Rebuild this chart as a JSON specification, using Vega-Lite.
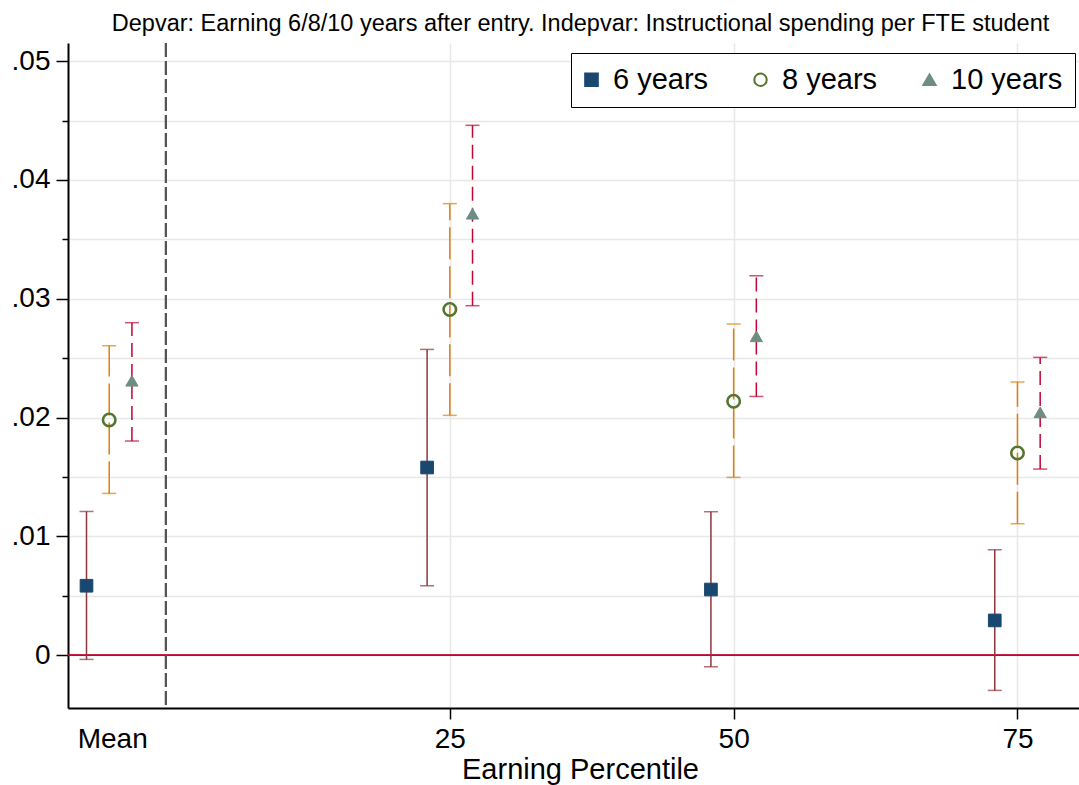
{
  "$schema": "https://vega.github.io/schema/vega-lite/v6.json",
  "autosize": "none",
  "width": 1011,
  "height": 665,
  "padding": {"left": 68, "top": 43, "right": 0, "bottom": 77},
  "background": "white",
  "config": {
    "font": "Liberation Sans",
    "view": {"stroke": null},
    "axis": {"labelColor": "black", "titleColor": "black", "domainColor": "black", "tickColor": "black", "labelFont": "Liberation Sans", "titleFont": "Liberation Sans"}
  },
  "title": {
    "text": "Depvar: Earning 6/8/10 years after entry. Indepvar: Instructional spending per FTE student",
    "fontSize": 23.5,
    "fontWeight": "normal",
    "color": "black",
    "font": "Liberation Sans",
    "anchor": "middle",
    "frame": "group",
    "offset": 7,
    "dx": 7
  },
  "datasets": {
    "est": [
      {"group": "Mean", "series": "6 years", "x": -7, "est": 0.00585, "lo": -0.00035, "hi": 0.0121},
      {"group": "Mean", "series": "8 years", "x": -5, "est": 0.0198, "lo": 0.01362, "hi": 0.02605},
      {"group": "Mean", "series": "10 years", "x": -3, "est": 0.0231, "lo": 0.01803, "hi": 0.02799},
      {"group": "25", "series": "6 years", "x": 23, "est": 0.0158, "lo": 0.00585, "hi": 0.02574},
      {"group": "25", "series": "8 years", "x": 25, "est": 0.0291, "lo": 0.02019, "hi": 0.03801},
      {"group": "25", "series": "10 years", "x": 27, "est": 0.03716, "lo": 0.02942, "hi": 0.0446},
      {"group": "50", "series": "6 years", "x": 48, "est": 0.00553, "lo": -0.00097, "hi": 0.01208},
      {"group": "50", "series": "8 years", "x": 50, "est": 0.02138, "lo": 0.01497, "hi": 0.02788},
      {"group": "50", "series": "10 years", "x": 52, "est": 0.02684, "lo": 0.02178, "hi": 0.03194},
      {"group": "75", "series": "6 years", "x": 73, "est": 0.00293, "lo": -0.00296, "hi": 0.00888},
      {"group": "75", "series": "8 years", "x": 75, "est": 0.01702, "lo": 0.01107, "hi": 0.0230},
      {"group": "75", "series": "10 years", "x": 77, "est": 0.02044, "lo": 0.01567, "hi": 0.02507}
    ]
  },
  "data": {"name": "est"},
  "layer": [
    {
      "mark": {"type": "point", "opacity": 0},
      "encoding": {
        "x": {
          "field": "x",
          "type": "quantitative",
          "scale": {"domain": [-8.63, 80.42], "nice": false, "zero": false},
          "axis": {
            "values": [-5, 25, 50, 75],
            "labelExpr": "datum.value == -5 ? 'Mean' : datum.label",
            "labelFontSize": 28,
            "labelPadding": 6,
            "labelOffset": {"condition": {"test": "datum.value == -5", "value": 3}, "value": 0},
            "tickSize": 11,
            "tickWidth": 1.5,
            "tickColor": {"condition": {"test": "datum.value == -5", "value": "transparent"}, "value": "black"},
            "grid": true,
            "gridColor": {"condition": {"test": "datum.value == -5", "value": "transparent"}, "value": "#e8e8e8"},
            "gridWidth": 1.5,
            "domainWidth": 2,
            "title": "Earning Percentile",
            "titleFontSize": 29,
            "titleFontWeight": "normal",
            "titleX": 512,
            "titlePadding": 2
          }
        },
        "y": {
          "field": "est",
          "type": "quantitative",
          "scale": {"domain": [-0.00444, 0.05153], "nice": false, "zero": false},
          "axis": {
            "values": [0, 0.005, 0.01, 0.015, 0.02, 0.025, 0.03, 0.035, 0.04, 0.045, 0.05],
            "labelExpr": "round(datum.value*200) % 2 != 0 ? '' : (datum.value == 0 ? '0' : replace(format(datum.value, '.2f'), '0.', '.'))",
            "labelFontSize": 28,
            "labelPadding": 6,
            "tickSize": {"condition": {"test": "round(datum.value*200) % 2 != 0", "value": 6}, "value": 12},
            "tickWidth": 1.5,
            "grid": true,
            "gridColor": "#e8e8e8",
            "gridWidth": 1.5,
            "domainWidth": 2,
            "title": null
          }
        }
      }
    },
    {
      "mark": {"type": "rule", "color": "#c10534", "strokeWidth": 1.2, "opacity": 0.6},
      "encoding": {
        "y": {"datum": 0, "type": "quantitative"}
      }
    },
    {
      "mark": {"type": "rule", "color": "#555555", "strokeWidth": 2, "strokeDash": [14, 4]},
      "encoding": {
        "x": {"datum": 0, "type": "quantitative"}
      }
    },
    {
      "mark": {"type": "rule", "strokeWidth": 1.5},
      "encoding": {
        "x": {"field": "x", "type": "quantitative"},
        "y": {"field": "lo", "type": "quantitative"},
        "y2": {"field": "hi"},
        "color": {
          "condition": [
            {"test": "datum.series === '6 years'", "value": "#90353b"},
            {"test": "datum.series === '8 years'", "value": "#e37e00"}
          ],
          "value": "#c10534"
        },
        "strokeDash": {
          "condition": [
            {"test": "datum.series === '8 years'", "value": [32, 7]},
            {"test": "datum.series === '10 years'", "value": [14, 7]}
          ],
          "value": [1, 0]
        }
      }
    },
    {
      "transform": [{"fold": ["lo", "hi"], "as": ["bound", "val"]}],
      "mark": {"type": "tick", "orient": "horizontal", "size": 14, "thickness": 1.5},
      "encoding": {
        "x": {"field": "x", "type": "quantitative"},
        "y": {"field": "val", "type": "quantitative"},
        "color": {
          "condition": [
            {"test": "datum.series === '6 years'", "value": "#90353b"},
            {"test": "datum.series === '8 years'", "value": "#e37e00"}
          ],
          "value": "#c10534"
        }
      }
    },
    {
      "mark": {"type": "point", "opacity": 1},
      "encoding": {
        "x": {"field": "x", "type": "quantitative"},
        "y": {"field": "est", "type": "quantitative"},
        "fill": {
          "field": "series",
          "type": "nominal",
          "scale": {"domain": ["6 years", "8 years", "10 years"], "range": ["#1a476f", "transparent", "#6e8e84"]},
          "legend": {"title": null}
        },
        "stroke": {
          "field": "series",
          "type": "nominal",
          "scale": {"domain": ["6 years", "8 years", "10 years"], "range": ["#1a476f", "#55752f", "#6e8e84"]},
          "legend": {"title": null}
        },
        "size": {
          "field": "series",
          "type": "nominal",
          "scale": {"domain": ["6 years", "8 years", "10 years"], "range": [160, 150, 300]},
          "legend": {"title": null}
        },
        "shape": {
          "field": "series",
          "type": "nominal",
          "scale": {"domain": ["6 years", "8 years", "10 years"], "range": ["square", "circle", "triangle-up"]},
          "legend": {
            "title": null,
            "orient": "none",
            "legendX": 503,
            "legendY": 10,
            "direction": "horizontal",
            "strokeColor": "black",
            "fillColor": "white",
            "padding": 12,
            "labelFontSize": 29,
            "labelFont": "Liberation Sans",
            "labelColor": "black",
            "labelOffset": 7,
            "symbolOffset": -6,
            "columnPadding": 41,
            "symbolStrokeWidth": 2
          }
        },
        "strokeWidth": {"condition": {"test": "datum.series === '8 years'", "value": 2.6}, "value": 1}
      }
    }
  ]
}
